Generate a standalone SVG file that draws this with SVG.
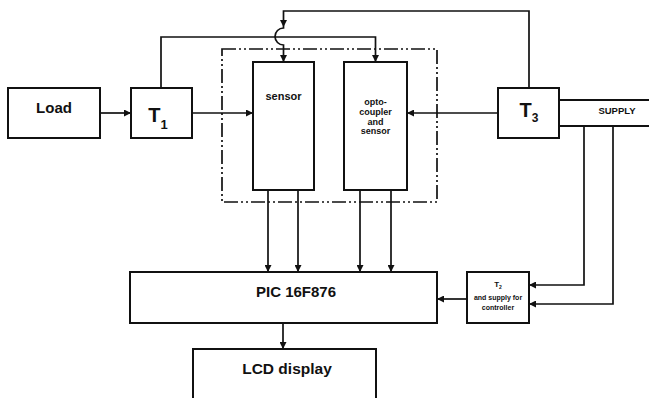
<svg xmlns="http://www.w3.org/2000/svg" width="649" height="398" viewBox="0 0 649 398">
<defs>
<marker id="ah" markerUnits="userSpaceOnUse" markerWidth="8" markerHeight="7" refX="7" refY="3.5" orient="auto">
<path d="M0,0 L7,3.5 L0,7 z" fill="#111"/>
</marker>
<style>
.box{fill:#fff;stroke:#111;stroke-width:2}
.ln{fill:none;stroke:#111;stroke-width:1.7}
.arr{fill:none;stroke:#111;stroke-width:1.7;marker-end:url(#ah)}
.dd{fill:none;stroke:#111;stroke-width:1.7;stroke-dasharray:14 3 2 3 2 3}
text{font-family:"Liberation Sans",Arial,Helvetica,sans-serif;font-weight:bold;fill:#111;text-anchor:middle}
</style>
</defs>
<rect width="649" height="398" fill="#fff"/>
<g id="module-frame">
<rect class="dd" x="222" y="49" width="215" height="153"/>
</g>
<g id="connectors">
<path class="arr" d="M100,113 H131"/>
<path class="arr" d="M192,113 H253"/>
<path class="arr" d="M498,113 H407"/>
<path class="arr" d="M161,88 V37 H375.5 V62"/>
<path class="arr" d="M529,88 V11 H283.5 V27"/>
<path class="arr" d="M283.5,27 V28 A8.5 8.5 0 0 0 283.5 45 V62"/>
<path class="arr" d="M268,190 V272"/>
<path class="arr" d="M298,190 V272"/>
<path class="arr" d="M360,190 V272"/>
<path class="arr" d="M391,190 V272"/>
<path class="arr" d="M467,299 H437"/>
<path class="arr" d="M584,126 V285 H529"/>
<path class="arr" d="M613,126 V304 H529"/>
<path class="arr" d="M283,323 V349"/>
</g>
<g id="load">
<rect class="box" x="8" y="88" width="92" height="50"/>
<text x="54" y="113" font-size="15">Load</text>
</g>
<g id="t1">
<rect class="box" x="131" y="88" width="61" height="50"/>
<text x="158" y="122" font-size="20">T<tspan dy="7" font-size="13">1</tspan></text>
</g>
<g id="sensor">
<rect class="box" x="253" y="62" width="61" height="128"/>
<text x="283.5" y="100" font-size="11">sensor</text>
</g>
<g id="opto">
<rect class="box" x="344" y="62" width="63" height="128"/>
<text x="375.5" y="105" font-size="9">opto-</text>
<text x="375.5" y="115" font-size="9">coupler</text>
<text x="375.5" y="124.5" font-size="9">and</text>
<text x="375.5" y="134" font-size="9">sensor</text>
</g>
<g id="t3">
<rect class="box" x="498" y="88" width="61" height="50"/>
<text x="529" y="117" font-size="20">T<tspan dy="4.5" font-size="12">3</tspan></text>
</g>
<g id="supply">
<path class="box" d="M559,100 H649 M559,126 H649"/>
<text x="617" y="114" font-size="9.5">SUPPLY</text>
</g>
<g id="pic">
<rect class="box" x="130" y="272" width="307" height="51"/>
<text x="296" y="297" font-size="15">PIC 16F876</text>
</g>
<g id="t2">
<rect class="box" x="467" y="272" width="62" height="51"/>
<text x="498" y="287" font-size="8">T<tspan dy="2" font-size="5">2</tspan></text>
<text x="498" y="300" font-size="7">and supply for</text>
<text x="498" y="310" font-size="7">controller</text>
</g>
<g id="lcd">
<rect class="box" x="193" y="349" width="183" height="60"/>
<text x="287" y="374" font-size="15.5">LCD display</text>
</g>
</svg>
